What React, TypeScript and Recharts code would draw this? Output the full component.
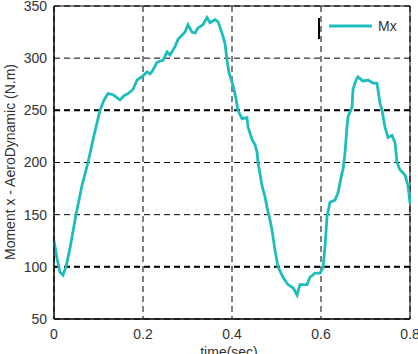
import React from "react";
import {
  LineChart,
  Line,
  XAxis,
  YAxis,
  CartesianGrid,
  ReferenceLine,
  ReferenceArea,
  Legend,
} from "recharts";

if (typeof document !== "undefined") {
  document.body.style.margin = "0";
}

const times = [
  0, 0.0067, 0.0135, 0.0202, 0.027, 0.036, 0.0494, 0.0629, 0.0764, 0.0899,
  0.1034, 0.1124, 0.1213, 0.1326, 0.1483, 0.1573, 0.1663, 0.1775, 0.1865,
  0.1933, 0.2, 0.209, 0.2157, 0.2202, 0.2315, 0.2382, 0.2449, 0.2539, 0.2607,
  0.2719, 0.2787, 0.2876, 0.2944, 0.3011, 0.3101, 0.3169, 0.3236, 0.3348,
  0.3438, 0.3506, 0.3618, 0.3685, 0.3775, 0.3843, 0.3888, 0.3933, 0.4, 0.4067,
  0.4135, 0.4225, 0.4337, 0.436, 0.4449, 0.4517, 0.4562, 0.4584, 0.4674,
  0.4742, 0.4787, 0.4854, 0.4899, 0.4966, 0.5034, 0.5146, 0.5258, 0.5371,
  0.5461, 0.5528, 0.5685, 0.5753, 0.5865, 0.5978, 0.6045, 0.609, 0.6135,
  0.6202, 0.6315, 0.6382, 0.6472, 0.6494, 0.6539, 0.6584, 0.6607, 0.6697,
  0.6719, 0.6787, 0.6831, 0.6944, 0.7056, 0.7169, 0.7258, 0.7326, 0.7371,
  0.7438, 0.7506, 0.7596, 0.7663, 0.7708, 0.7775, 0.7888, 0.7955, 0.8,
];

const mxValues = [
  125, 108, 95, 92, 100, 118, 150, 178, 200, 226, 250, 260, 266, 265, 260, 264,
  266, 270, 279, 281, 283, 287, 285, 287, 296, 297, 298, 306, 303, 311, 318,
  322, 325, 332, 325, 324, 329, 332, 339, 334, 337, 335, 324, 314, 298, 286,
  277, 266, 250, 242, 243, 234, 222, 217, 210, 200, 178, 167, 157, 145, 135,
  116, 100, 90, 83, 80, 73, 83, 83, 90, 94, 94, 99, 119, 148, 162, 164, 171,
  190, 193, 209, 234, 244, 253, 270, 279, 282, 278, 279, 276, 276, 257, 250,
  234, 224, 226, 219, 200, 193, 188, 178, 161,
];

const xTicks = [0, 0.2, 0.4, 0.6, 0.8];
const yTicks = [50, 100, 150, 200, 250, 300, 350];
const boldGridY = [100, 250];
const seriesName = "Mx";
const xLabel = "time(sec)";
const yLabel = "Moment x - AeroDynamic (N.m)";

const data = times.map((t, i) => ({ t, mx: mxValues[i] }));

const FONT = "'Liberation Sans', Arial, sans-serif";
const TEAL = "#1DBDBD";

const LegendContent = () => (
  <svg width={100} height={30} style={{ display: "block" }}>
    <line x1={3} y1={4} x2={3} y2={25} stroke="#000" strokeWidth={2} />
    <line x1={13} y1={12} x2={56} y2={12} stroke={TEAL} strokeWidth={2.8} />
    <text
      x={62}
      y={12}
      dominantBaseline="central"
      fontFamily={FONT}
      fontSize={14}
      fill="#333"
    >
      {seriesName}
    </text>
  </svg>
);

export default function App() {
  return (
    <div style={{ width: 418, height: 354 }}>
      <LineChart
        width={418}
        height={354}
        data={data}
        margin={{ top: 6, right: 8, left: 0, bottom: 0 }}
        style={{ background: "#fff" }}
      >
        <CartesianGrid
          stroke="#000"
          strokeDasharray="6 4"
          strokeWidth={1}
          horizontalValues={yTicks}
          verticalValues={xTicks}
        />
        {boldGridY.map((v) => (
          <ReferenceLine
            key={v}
            y={v}
            stroke="#000"
            strokeWidth={2}
            strokeDasharray="6 4"
          />
        ))}
        <XAxis
          dataKey="t"
          type="number"
          domain={[0, 0.8]}
          ticks={xTicks}
          tickFormatter={(v: number) => (v === 0 ? "0" : String(v))}
          height={35}
          tickLine={false}
          tickSize={8}
          axisLine={{ stroke: "#000" }}
          tick={{ fontFamily: FONT, fontSize: 14, fill: "#333" }}
          interval={0}
          label={{
            content: () => (
              <text
                x={229}
                y={357}
                textAnchor="middle"
                fontFamily={FONT}
                fontSize={14}
                fill="#333"
              >
                {xLabel}
              </text>
            ),
          }}
        />
        <YAxis
          type="number"
          domain={[50, 350]}
          ticks={yTicks}
          width={54}
          tickLine={false}
          tickSize={5}
          axisLine={{ stroke: "#000" }}
          tick={{ fontFamily: FONT, fontSize: 14, fill: "#333" }}
          interval={0}
          label={{
            content: () => (
              <text
                x={10}
                y={162}
                transform="rotate(-90, 10, 162)"
                textAnchor="middle"
                dominantBaseline="central"
                fontFamily={FONT}
                fontSize={14}
                fill="#333"
              >
                {yLabel}
              </text>
            ),
          }}
        />
        <ReferenceArea
          x1={0}
          x2={0.8}
          y1={50}
          y2={350}
          fill="none"
          stroke="#000"
          strokeWidth={1}
        />
        <Line
          type="linear"
          dataKey="mx"
          name={seriesName}
          stroke={TEAL}
          strokeWidth={2.8}
          dot={false}
          isAnimationActive={false}
        />
        <Legend
          layout="vertical"
          align="center"
          verticalAlign="middle"
          wrapperStyle={{ position: "absolute", left: 316, top: 14, width: 100 }}
          content={() => <LegendContent />}
        />
      </LineChart>
    </div>
  );
}
